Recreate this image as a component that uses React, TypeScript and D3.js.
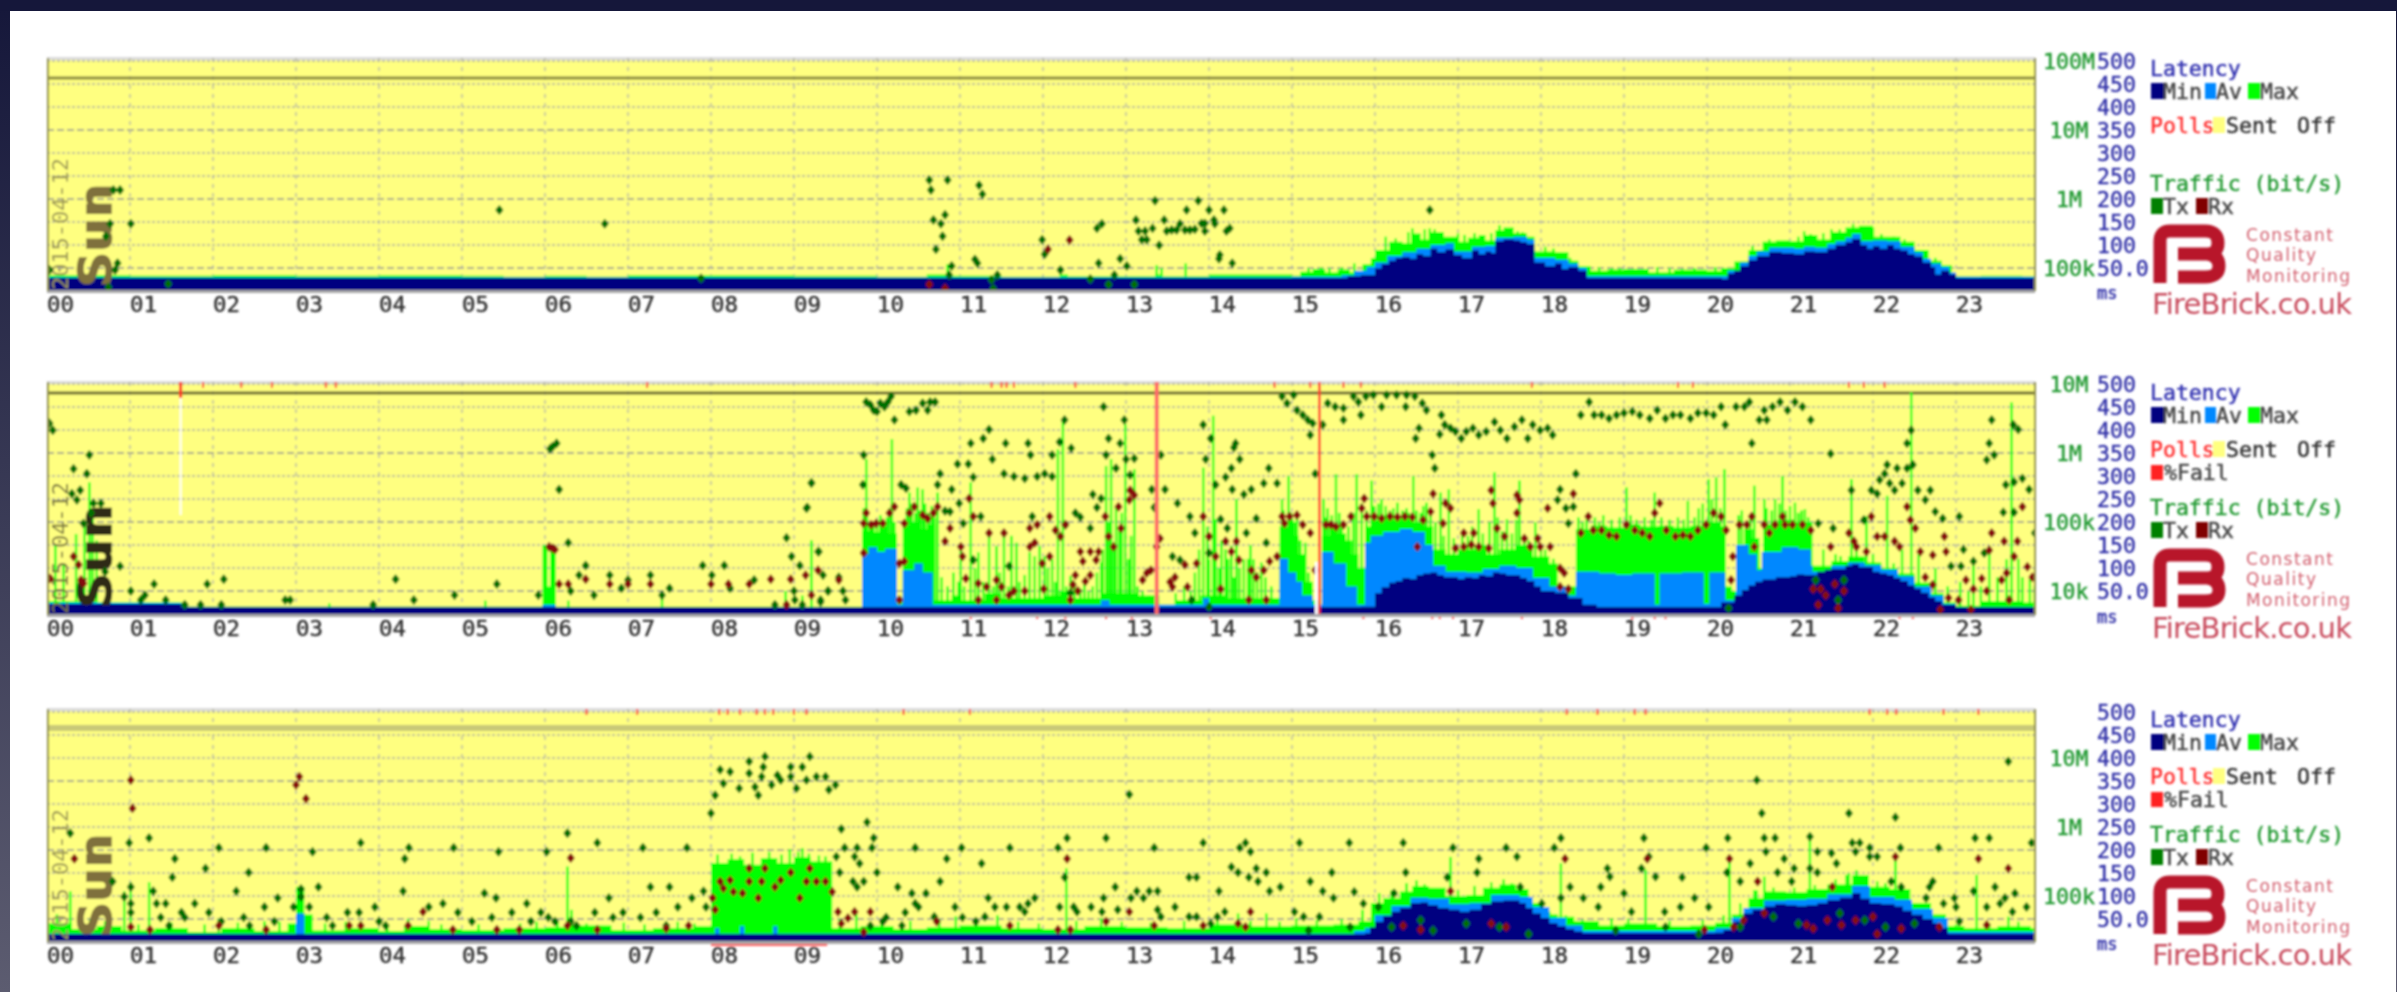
import React from "react";
import * as d3 from "d3";

type P = [number, number];

// hour labels
const hourLabels = ["00","01","02","03","04","05","06","07","08","09","10","11","12","13","14","15","16","17","18","19","20","21","22","23"];
const latencyTicks = ["500","450","400","350","300","250","200","150","100","50.0"];
const latencyValues = [500,450,400,350,300,250,200,150,100,50];

// ---------- Panel 1: latency envelopes [hour, ms]
const p1Min: P[] = [[0,28],[15.67,32],[15.83,35],[16,49],[16.08,58],[16.17,66],[16.25,72],[16.33,74],[16.42,70],[16.5,80],[16.58,76],[16.67,92],[16.75,84],[16.85,90],[16.95,78],[17.05,72],[17.17,88],[17.25,80],[17.33,86],[17.4,82],[17.45,108],[17.55,112],[17.67,110],[17.75,106],[17.83,102],[17.92,62],[18.05,54],[18.17,60],[18.25,48],[18.33,52],[18.45,44],[18.55,28],[20.1,28],[20.18,26],[20.25,38],[20.33,44],[20.4,54],[20.5,67],[20.6,76],[20.75,85],[20.9,82],[21.05,80],[21.17,86],[21.3,85],[21.45,92],[21.55,100],[21.67,106],[21.75,113],[21.85,100],[21.93,92],[22,98],[22.08,92],[22.17,100],[22.25,92],[22.33,88],[22.42,80],[22.5,75],[22.6,62],[22.7,52],[22.75,36],[22.82,44],[22.92,36],[23,28]];
const p1Av: P[] = [[0,30],[15,31],[15.6,34],[15.75,44],[15.9,52],[16,62],[16.15,76],[16.33,84],[16.5,92],[16.67,100],[16.85,104],[16.95,86],[17.17,96],[17.33,98],[17.45,116],[17.67,118],[17.83,112],[17.92,72],[18.17,68],[18.33,60],[18.45,50],[18.55,32],[20.1,32],[20.25,44],[20.4,62],[20.5,76],[20.6,86],[20.75,94],[21.05,92],[21.17,96],[21.3,94],[21.45,102],[21.55,108],[21.67,116],[21.75,124],[21.85,108],[22,110],[22.17,108],[22.33,96],[22.5,84],[22.6,70],[22.7,60],[22.82,52],[22.92,40],[23,31]];
const p1Max: P[] = [[0,34],[1,33],[2,35],[3,33],[4,34],[5,33],[5.5,31],[6,33],[6.5,31],[7,34],[8,34],[9,33],[10,31],[10.6,36],[10.85,33],[11.5,31],[12.2,36],[12.3,32],[13.35,36],[13.42,32],[14,36],[15,33],[15.1,42],[15.25,48],[15.4,40],[15.55,47],[15.7,40],[15.85,58],[15.95,72],[16,89],[16.17,107],[16.33,104],[16.45,125],[16.55,112],[16.67,128],[16.83,118],[17,107],[17.12,116],[17.25,122],[17.33,110],[17.45,132],[17.55,138],[17.67,126],[17.83,118],[17.92,86],[18.17,84],[18.33,66],[18.45,54],[18.6,44],[18.8,47],[19,48],[19.3,40],[19.6,46],[20,44],[20.17,50],[20.33,64],[20.5,89],[20.67,107],[20.83,110],[21,108],[21.17,122],[21.33,112],[21.5,128],[21.67,138],[21.83,142],[22,118],[22.17,118],[22.33,107],[22.5,89],[22.67,66],[22.83,56],[22.95,32],[23.3,33],[23.8,32]];
const p1Spikes: P[] = [[10.85,58],[13.37,56],[13.72,60],[13.43,50],[15.2,50],[15.35,52],[15.45,50],[15.6,52],[15.75,60],[16.13,118],[16.25,114],[16.4,128],[16.45,136],[16.6,134],[16.66,136],[16.72,134],[17,125],[17.08,122],[17.2,126],[17.3,120],[17.4,126],[17.5,143],[17.6,132],[17.72,130],[17.78,128],[18.05,96],[18.15,92],[18.25,70],[18.35,72],[18.7,52],[18.85,50],[18.95,50],[19.1,48],[19.4,52],[19.55,50],[19.7,48],[19.85,50],[20.1,52],[20.55,98],[20.75,112],[21.1,118],[21.17,130],[21.25,124],[21.4,126],[21.5,134],[21.6,134],[21.76,146],[21.9,136],[22,138],[22.1,124],[22.25,118],[22.38,112],[22.45,98],[22.58,80],[22.75,72]];

// Panel 1: traffic dots [hour, log10 bit/s]
const p1Tx: P[] = [[.8,6.13],[.88,6.13],[.76,5.64],[1.01,5.64],[.71,5.46],[.85,5.07],[.82,4.97],[1.46,4.77],[.74,4.72],[.03,4.97],[5.45,5.84],[6.72,5.64],[7.88,4.85],[10.63,6.275],[10.85,6.275],[10.65,6.13],[11.23,6.2],[11.27,6.07],[10.68,5.695],[10.82,5.77],[10.77,5.64],[10.79,5.46],[10.71,5.27],[11.18,5.125],[11.21,5.07],[10.9,5.03],[10.87,4.9],[11.99,5.41],[12.02,5.2],[12.65,5.575],[12.71,5.64],[12.67,5.07],[12.93,5.135],[13.01,5.03],[12.86,4.9],[12.21,4.97],[12.57,4.84],[12.79,4.76],[13.1,4.76],[11.38,4.83],[11.45,4.9],[11.4,4.7],[13.12,5.695],[13.35,5.975],[13.46,5.695],[13.4,5.33],[13.15,5.535],[13.23,5.535],[13.32,5.575],[13.19,5.41],[13.25,5.41],[13.49,5.535],[13.55,5.55],[13.61,5.55],[13.65,5.64],[13.71,5.55],[13.77,5.55],[13.83,5.56],[13.73,5.84],[13.87,5.975],[14,5.84],[14.18,5.84],[13.91,5.645],[13.95,5.645],[14.06,5.695],[14.07,5.64],[14.21,5.535],[14.25,5.575],[13.95,5.535],[14.13,5.19],[14.12,5.135],[14.28,5.07],[16.66,5.84]];
const p1Rx: P[] = [[12.32,5.405],[12.06,5.27],[10.63,4.76],[10.82,4.705]];

// ---------- Panel 2
const p2Min: P[] = [[0,22],[1.62,15],[15.83,16],[16,45],[16.08,58],[16.17,68],[16.25,72],[16.33,78],[16.42,76],[16.5,85],[16.58,88],[16.67,90],[16.75,84],[16.83,80],[17,76],[17.08,80],[17.17,78],[17.25,84],[17.33,82],[17.42,90],[17.5,88],[17.58,84],[17.67,84],[17.75,78],[17.83,72],[17.92,60],[18,50],[18.17,46],[18.33,35],[18.5,20],[18.67,15],[20,15],[20.17,25],[20.33,40],[20.42,52],[20.5,62],[20.58,70],[20.67,75],[20.83,80],[21,82],[21.08,86],[21.17,85],[21.33,92],[21.42,96],[21.5,98],[21.67,105],[21.75,108],[21.83,102],[22,92],[22.08,88],[22.17,85],[22.25,78],[22.33,72],[22.42,62],[22.5,55],[22.58,46],[22.67,36],[22.75,28],[22.83,20],[23,15]];
const p2Av: P[] = [[0,24],[1.62,16],[5.97,20],[6.13,15],[9.82,130],[9.9,145],[10,135],[10.1,142],[10.24,20],[10.31,95],[10.45,110],[10.55,90],[10.67,20],[12.7,30],[12.8,20],[13.93,34],[14,20],[14.85,120],[14.95,90],[15.05,70],[15.12,40],[15.25,20],[15.36,135],[15.5,110],[15.65,60],[15.78,20],[15.88,155],[15.95,170],[16.1,178],[16.3,185],[16.45,178],[16.6,150],[16.7,105],[16.85,92],[17.1,90],[17.3,98],[17.5,105],[17.7,100],[17.9,78],[18.1,60],[18.3,40],[18.42,92],[18.7,88],[18.9,85],[19.1,88],[19.37,20],[19.43,88],[19.7,90],[19.96,22],[20.03,90],[20.2,90],[20.22,30],[20.35,150],[20.5,130],[20.6,95],[20.66,135],[20.9,145],[21.1,140],[21.25,105],[21.27,92],[21.5,105],[21.7,112],[21.9,106],[22.1,96],[22.3,82],[22.5,60],[22.7,40],[22.85,22],[23,15]];
const p2Max: P[] = [[0,28],[.6,26],[1.62,16],[5.97,150],[6.03,60],[6.06,150],[6.13,16],[9.82,180],[9.9,195],[9.97,178],[10.05,192],[10.12,175],[10.24,30],[10.31,190],[10.4,200],[10.5,185],[10.6,195],[10.7,30],[10.9,40],[11,30],[11.3,45],[11.5,35],[12,40],[12.2,50],[12.3,35],[12.7,45],[13.15,40],[13.4,20],[13.6,30],[13.9,40],[14.2,35],[14.85,190],[14.95,205],[15.02,170],[15.08,130],[15.15,70],[15.25,30],[15.33,20],[15.36,170],[15.45,190],[15.55,175],[15.65,160],[15.72,130],[15.8,100],[15.88,190],[15.95,205],[16.1,215],[16.2,205],[16.3,210],[16.45,200],[16.6,190],[16.7,140],[16.85,130],[17,140],[17.2,150],[17.35,130],[17.5,140],[17.7,150],[17.9,125],[18.1,110],[18.2,60],[18.42,185],[18.6,192],[18.8,188],[19,195],[19.2,190],[19.4,192],[19.6,188],[19.8,192],[20,200],[20.15,190],[20.22,60],[20.3,50],[20.35,150],[20.45,185],[20.55,165],[20.63,100],[20.68,195],[20.85,205],[21.05,200],[21.27,105],[21.5,115],[21.7,125],[21.9,112],[22.1,100],[22.3,88],[22.5,68],[22.7,45],[22.85,25],[23,18],[23.3,28],[23.8,25]];
const p2Spikes: P[] = [[.51,286],[.35,174],[.1,150],[.2,110],[.45,200],[.55,220],[.6,160],[6.28,29],[7.41,44],[8.9,50],[9.21,160],[9.1,40],[5.28,29],[3.4,23],[9.87,337],[10.18,380],[10.33,184],[10.39,264],[10.49,275],[10.55,271],[10.73,264],[10.92,90],[11.01,148],[11.13,286],[11.22,134],[11.35,177],[11.44,148],[11.53,170],[11.62,170],[11.68,155],[11.84,134],[11.9,126],[11.96,148],[12.02,126],[12.11,119],[12.18,358],[12.24,424],[12.33,83],[12.7,112],[12.76,322],[12.82,337],[12.88,235],[12.99,413],[13.1,315],[13.83,90],[13.93,318],[14,119],[14.05,431],[14.08,206],[14.2,141],[14.27,148],[14.33,250],[14.42,119],[14.54,119],[14.63,112],[14.88,250],[14.96,300],[15.06,213],[15.16,155],[15.38,250],[15.53,304],[15.78,304],[15.96,290],[16.08,250],[16.27,242],[16.46,300],[16.62,242],[16.79,264],[16.89,271],[17.25,228],[17.44,308],[17.59,206],[17.74,290],[17.93,199],[19.03,275],[19.37,264],[19.77,246],[20.02,293],[20.11,297],[20.21,315],[20.57,279],[20.69,250],[20.82,250],[20.91,300],[21.06,242],[21.18,228],[21.61,126],[21.74,293],[21.92,213],[22.17,257],[22.46,482],[23.21,105],[23.4,148],[23.61,119],[23.67,460],[23.89,76],
[9.84,230],[9.88,210],[9.92,200],[9.95,190],[10,205],[10.04,215],[10.08,200],[10.12,210],[10.15,230],[10.21,200],[10.36,230],[10.42,240],[10.46,220],[10.52,225],[10.58,240],[10.62,220],[10.66,235],[10.69,210],[10.78,80],[10.85,60],[10.98,70],[11.05,60],[11.18,100],[11.28,70],[11.4,60],[11.48,90],[11.58,60],[11.72,70],[11.78,85],[12.06,100],[12.15,70],[12.28,60],[12.38,70],[12.45,55],[12.5,70],[12.55,50],[12.6,60],[12.65,90],[12.72,140],[12.79,200],[12.85,150],[12.92,180],[12.95,220],[13.03,120],[13.06,170],[13.14,60],[13.2,50],[13.28,40],[13.6,45],[13.7,60],[13.78,50],[13.88,140],[13.98,190],[14.12,100],[14.15,160],[14.23,120],[14.3,80],[14.37,100],[14.47,120],[14.5,150],[14.58,90],[14.68,80],[14.75,60],[14.9,225],[14.99,220],[15.03,200],[15.1,160],[15.2,90],[15.4,210],[15.43,230],[15.48,215],[15.57,220],[15.6,200],[15.68,190],[15.74,220],[15.84,240],[15.9,225],[15.99,235],[16.04,240],[16.13,235],[16.18,225],[16.22,230],[16.33,225],[16.38,230],[16.41,220],[16.5,225],[16.55,220],[16.58,235],[16.67,215],[16.73,200],[16.83,170],[16.95,165],[17.05,180],[17.12,170],[17.17,190],[17.3,175],[17.38,200],[17.48,210],[17.53,180],[17.65,175],[17.7,205],[17.8,170],[17.85,160],[18,150],[18.05,140],[18.15,120],[18.45,210],[18.5,200],[18.55,205],[18.65,210],[18.7,200],[18.75,215],[18.85,205],[18.95,210],[19.08,215],[19.15,205],[19.25,210],[19.33,205],[19.45,210],[19.55,205],[19.65,210],[19.72,205],[19.85,210],[19.9,230],[19.95,240],[20.06,250],[20.16,230],[20.38,215],[20.42,225],[20.48,200],[20.52,210],[20.72,230],[20.78,225],[20.87,240],[20.95,225],[21,235],[21.1,220],[21.14,225],[21.22,210],[21.4,140],[21.55,130],[21.8,150],[22,130],[22.25,110],[22.35,140],[22.55,130],[22.75,100],[22.9,60],[23.05,70],[23.15,50],[23.3,60],[23.5,80],[23.75,120],[23.8,80],[23.95,60]];
const p2Tx: P[] = [[.03,6.43],[.07,6.33],[.51,5.97],[.32,5.77],[.48,5.7],[.3,5.41],[.4,5.46],[.36,5.32],[.56,5.27],[.65,5.27],[.44,4.98],[.53,5.13],[.88,4.36],[.7,4.28],[1.01,4],[1.29,4.1],[1.18,3.94],[1.13,3.87],[1.43,3.87],[1.66,3.8],[1.85,3.8],[2.1,3.8],[1.93,4.1],[2.13,4.17],[2.87,3.87],[2.93,3.87],[3.93,3.8],[4.2,4.17],[4.42,3.87],[4.91,3.94],[5.42,4.1],[5.92,3.94],[6.06,6.06],[6.09,6.09],[6.14,6.14],[6.17,5.47],[6.28,4.7],[6.31,4],[6.41,4.23],[6.49,4.37],[6.59,3.94],[6.78,4.23],[6.92,4.04],[7,4.16],[7.27,4.23],[7.5,4.04],[7.41,3.94],[7.9,4.37],[8.01,4.23],[8.16,4.37],[8.23,4.04],[8.52,4.16],[8.77,3.8],[8.91,4.77],[8.97,4.5],[9.07,4.37],[9.15,5.2],[9.21,5.57],[9.3,4.57],[9.35,4.23],[9,4],[9.01,3.87],[9.1,3.8],[9.32,3.84],[9.41,4],[9.54,4.2],
[9.87,6.74],[9.92,6.7],[9.96,6.62],[10,6.6],[10.04,6.72],[10.09,6.67],[10.13,6.74],[10.17,6.82],[10.21,6.48],[10.39,6.6],[10.47,6.62],[10.55,6.72],[10.61,6.62],[10.64,6.74],[10.7,6.74],[11.53,5.7],[11.65,5.66],[11.78,5.63],[11.93,5.66],[12.02,5.7],[12.11,5.66],[12.73,6.67],[12.26,6.48],[12.98,6.48],[11.35,6.34],[11.28,6.21],[11.13,6.14],[11.55,6.14],[11.82,6.14],[12.79,6.21],[12.93,6.14],[13.93,6.41],[14.02,6.21],[14.32,6.14],[14.3,6.08],[9.84,5.97],[11.39,5.91],[11.85,5.97],[12.11,5.97],[12.2,6.16],[12.34,6.07],[12.76,5.97],[13,5.91],[13.1,5.92],[13.42,5.97],[13.96,5.91],[14.37,5.91],[10.97,5.84],[11.1,5.84],[12.88,5.78],[14.27,5.78],[14.72,5.78],[11.16,5.65],[10.76,5.7],[14.2,5.65],[9.83,5.54],[10.29,5.54],[10.35,5.49],[10.73,5.54],[10.9,5.47],[13.05,5.68],[14.08,5.54],[14.28,5.47],[14.42,5.4],[14.51,5.47],[14.66,5.56],[14.82,5.56],[13.31,5.47],[13.47,5.47],[12.6,5.4],[12.7,5.34],[13.62,5.27],[10.99,5.27],[12.65,5.21],[13.34,5.21],[10.82,5.16],[10.88,5.15],[11.04,4.98],[11.25,5.08],[11.87,5.08],[12.39,5.13],[12.45,5.07],[12.57,4.91],[12.27,4.96],[13.77,5.08],[14.14,5.04],[14.57,5.05],[14.22,4.91],[13.83,4.84],[14.45,4.84],[14.69,4.7],[14,4.55],[13.56,4.5],[13.65,4.45],[11.16,4.45],[9.29,4.57],[9.21,5.56],[9.16,5.21],[9.32,3.87],[9.41,4],[9.62,3.87],[9.59,4],[11.59,4.36],[13.79,3.87],[14,3.77],[12.33,3.97],
[14.88,6.82],[14.94,6.72],[15.02,6.84],[15.06,6.62],[15.13,6.55],[15.19,6.48],[15.22,6.26],[15.25,6.43],[15.37,6.41],[15.28,5.7],[15.43,6.72],[15.52,6.67],[15.62,6.65],[15.62,6.48],[15.74,6.82],[15.8,6.74],[15.83,6.55],[15.89,6.82],[15.98,6.84],[16.08,6.67],[16.14,6.84],[16.26,6.84],[16.38,6.84],[16.37,6.67],[16.48,6.82],[16.57,6.72],[16.62,6.62],[16.53,6.36],[16.49,6.21],[16.8,6.55],[16.78,6.27],[16.69,5.97],[16.72,5.78],
[16.84,6.41],[16.91,6.36],[16.97,6.31],[17.04,6.21],[17.1,6.31],[17.18,6.36],[17.25,6.26],[17.34,6.31],[17.44,6.45],[17.51,6.33],[17.59,6.21],[17.68,6.38],[17.77,6.48],[17.84,6.21],[17.9,6.41],[17.99,6.33],[18.08,6.36],[18.14,6.26],[18.23,5.47],[18.42,5.7],[18.3,5.2],[18.33,4.98],[18.39,5.22],[18.2,5.32],
[18.48,6.55],[18.58,6.74],[18.64,6.55],[18.73,6.55],[18.82,6.5],[18.91,6.55],[19,6.58],[19.1,6.6],[19.19,6.55],[19.31,6.5],[19.4,6.62],[19.5,6.5],[19.59,6.55],[19.68,6.55],[19.8,6.5],[19.89,6.58],[19.99,6.58],[20.08,6.55],[20.17,6.67],[20.22,6.41],[20.35,6.67],[20.45,6.67],[20.51,6.74],[20.63,6.48],[20.72,6.48],[20.69,6.62],[20.79,6.67],[20.88,6.74],[20.97,6.62],[21.06,6.74],[21.15,6.67],[21.25,6.48],[20.54,6.14],[21.49,5.99],
[22.17,5.83],[22.29,5.78],[22.41,5.78],[22.48,5.83],[22.46,6.33],[22.41,6.14],[22.14,5.7],[22.08,5.61],[21.98,5.46],[22.05,5.41],[22.2,5.56],[22.35,5.56],[22.26,5.46],[22.54,5.46],[22.69,5.46],[22.63,5.32],[22.75,5.15],[22.84,5.05],[21.74,5.46],[23.04,5.08],[21.89,5.03],[23.43,6.48],[23.4,6.14],[23.37,5.9],[23.46,5.97],[23.69,6.41],[23.75,6.34],[23.8,5.63],[23.7,5.58],[23.6,5.54],[23.88,5.47],[23.57,5.14],[23.7,5.14],[23.95,4.84],[23.09,4.6],[23.21,4.43],[23.34,4.55],[23.06,4.36],[22.94,4.36],[21.34,4.98],[21.52,4.91],[21.31,4.16],[21.65,4.16],[21.58,3.87],[20.26,3.75]];
const p2Rx: P[] = [[.32,4.5],[.04,4.18],[.41,4.16],[.38,4.38],[.44,4.11],[6.09,4.62],[6.05,4.64],[6.12,4.6],[6.17,4.1],[6.28,4.1],[6.49,4.17],[6.78,4.1],[7,4.1],[7.27,4.1],[8,4.1],[8.21,4.1],[8.46,4.1],[8.72,4.17],[8.96,4.17],[8.91,3.8],[9.14,4.23],[9.21,3.94],[9.29,4.3],[9.54,4.16],
[9.84,4.55],[10.27,4.4],[10.33,4.43],[10.27,3.87],[9.87,5.13],[9.84,4.98],[9.93,4.96],[9.99,4.98],[10.07,4.98],[10.15,5.13],[10.21,5.22],[10.39,5.13],[10.45,5.22],[10.55,5.1],[10.61,5.05],[10.68,5.13],[10.73,5.22],[10.33,4.98],[10.82,4.72],[10.88,4.91],[11.01,4.64],[11.03,4.5],[11.11,5.34],[11.16,5.08],[11.35,4.84],[11.53,4.84],[11.07,4.18],[11.22,4.11],[11.32,4.06],[11.44,4.16],[11.5,4.06],[11.65,4],[11.78,4],[12.01,4.03],[11.22,3.87],[11.44,3.87],[11.59,3.94],[11.84,4.91],[11.93,4.96],[12.15,4.88],[12.21,4.79],[12.27,4.96],[11.84,4.64],[11.9,4.7],[12.08,5.08],[11.99,4.4],[12.08,4.5],[12.45,4.57],[12.57,4.57],[12.67,4.57],[12.48,4.43],[12.64,4.45],[12.39,4.23],[12.36,4.09],[12.57,4.23],[12.51,4.14],[12.42,4],[12.33,3.87],[12.75,5.08],[12.91,5.22],[12.94,4.91],[12.79,4.79],[12.85,4.64],[13.05,5.46],[13.1,5.39],[13.04,5.32],[13.25,4.26],[13.3,4.3],[13.2,4.16],[13.41,4.76],[13.37,4.64],[13.53,4.13],[13.59,4.2],[13.56,4.06],[13.71,4.38],[13.85,4.4],[13.74,4.06],[13.93,5.08],[14,4.79],[14.08,4.5],[14.2,4.72],[14.33,4.72],[14.27,4.57],[14.36,4.45],[14.51,4.3],[14.57,4.2],[14.66,4.3],[14.73,4.43],[14.82,4.5],[14.48,3.87],[14.69,3.87],[14.14,4.03],[14.88,5.08],[14.97,5.08],[15.06,5.1],[14.91,4.98],[15.13,4.96],[15.22,4.84],[15.28,4.3],
[15.41,4.96],[15.47,4.96],[15.53,4.93],[15.62,4.96],[15.71,5.08],[15.87,5.34],[15.84,5.2],[15.9,5.08],[15.99,5.08],[16.08,5.05],[16.18,5.08],[16.27,5.07],[16.36,5.08],[16.45,5.07],[16.58,5.03],[16.67,5.15],[16.7,5.41],[16.85,5.27],[16.91,5.2],[16.82,4.98],[16.51,4.64],[16.97,4.62],[17.07,4.64],[17.16,4.67],[17.25,4.64],[17.37,4.62],[17.47,4.91],[17.42,5.27],[17.4,5.46],[17.56,4.79],[17.71,5.39],[17.74,5.32],[17.71,5.13],[17.8,4.76],[17.96,4.76],[17.87,4.64],[17.99,4.64],[18.11,4.64],[18.08,5.2],[17.19,4.84],[17.07,4.84],[18.23,4.33],[18.28,4.26],[18.23,4.06],[18.33,4.03],[18.39,5.41],
[18.48,4.84],[18.57,5.08],[18.63,4.88],[18.73,4.88],[18.82,4.81],[18.91,4.79],[19.03,4.96],[19.13,4.88],[19.22,4.84],[19.31,4.79],[19.37,5.13],[19.43,5.27],[19.51,4.88],[19.62,4.79],[19.71,4.81],[19.8,4.79],[19.89,4.88],[19.99,4.96],[20.08,5.13],[20.17,5.08],[20.23,4.88],[20.31,4.5],[20.29,4.16],[20.39,4.96],[20.48,4.96],[20.54,5.08],[20.69,4.96],[20.75,4.84],[20.82,4.96],[20.91,5.08],[20.94,4.96],[21.03,4.96],[21.15,4.96],[21.25,4.88],[20.57,4.64],
[21.28,4.03],[21.37,4.03],[21.43,3.94],[21.54,4.1],[21.34,3.8],[21.58,3.75],[21.65,4],[21.49,4.64],[21.71,4.84],[21.77,4.72],[21.8,4.64],[21.92,4.57],[21.98,5.08],[22.05,4.79],[22.14,4.79],[22.26,4.72],[22.32,4.64],[22.41,5.22],[22.45,5.03],[22.51,4.91],[22.57,4.57],[22.72,4.52],[22.86,4.79],[22.88,4.57],[22.63,4.2],[22.72,4.09],[22.91,3.9],[23.03,3.87],[22.81,3.73],[23.18,3.73],[23.12,4.16],[23.21,4.03],[23.31,4.18],[23.43,4.84],[23.4,4.59],[23.58,4.72],[23.74,4.72],[23.7,4.5],[23.61,4.26],[23.55,4.16],[23.8,5.22],[23.86,4.35],[23.92,4.2],[23.37,4],[23.64,3.87]];
const p2FailTop: number[] = [1.88,2.34,2.71,3.36,3.48,7.23,11.38,11.5,11.56,11.65,12.39,14.79,15.22,15.62,15.83,17.89,19.65,19.83,21.71,21.89,22.14];
const p2FailBottom: number[] = [11.13,11.93,12.27,12.76,13.07,14.02,15.86,16.69,16.78,16.94,17.77,19.1,19.37,19.5,22.32,22.48];

// ---------- Panel 3
const p3Min: P[] = [[0,17],[15.88,19],[15.94,32],[16,44],[16.1,56],[16.2,66],[16.3,74],[16.43,84],[16.55,86],[16.64,80],[16.76,74],[16.89,70],[17.02,66],[17.14,70],[17.28,82],[17.4,88],[17.55,90],[17.74,84],[17.82,74],[17.9,62],[18,52],[18.1,41],[18.2,34],[18.3,28],[18.4,23],[18.5,19],[20.1,20],[20.2,26],[20.32,44],[20.44,62],[20.55,70],[20.69,77],[20.82,82],[20.95,80],[21.08,78],[21.2,80],[21.33,84],[21.45,91],[21.6,96],[21.75,106],[21.85,94],[21.96,84],[22.1,82],[22.26,77],[22.36,68],[22.47,59],[22.6,50],[22.72,41],[22.82,30],[22.9,18]];
const p3Av: P[] = [[0,18],[3,62],[3.1,18],[8.05,30],[8.1,18],[8.35,34],[8.4,18],[8.75,34],[8.8,18],[15.75,24],[15.88,30],[16,58],[16.2,78],[16.43,96],[16.64,94],[16.89,82],[17.14,84],[17.4,102],[17.74,98],[17.9,76],[18.1,52],[18.3,36],[18.5,24],[20.1,30],[20.3,52],[20.44,74],[20.69,90],[20.95,92],[21.2,94],[21.45,104],[21.75,122],[21.96,98],[22.26,92],[22.47,72],[22.72,52],[22.9,22]];
const p3Max: P[] = [[0,40],[.3,28],[.6,35],[.9,25],[1.3,30],[1.7,22],[2.1,30],[2.5,24],[2.9,40],[3,120],[3.1,60],[3.2,25],[3.6,30],[4,24],[4.3,35],[4.6,28],[5,26],[5.5,30],[6,32],[6.3,36],[6.8,26],[7.3,30],[7.8,34],[8,172],[8.2,180],[8.4,168],[8.6,182],[8.8,172],[9,185],[9.2,175],[9.46,30],[9.8,34],[10.2,28],[10.6,32],[11,36],[11.5,30],[12,28],[12.5,34],[13,32],[13.5,30],[14,38],[14.5,34],[15,36],[15.5,38],[15.8,45],[15.95,85],[16.1,95],[16.3,110],[16.45,122],[16.65,118],[16.85,100],[17.1,102],[17.3,118],[17.5,125],[17.7,115],[17.85,85],[18,60],[18.2,55],[18.4,45],[18.7,36],[19,40],[19.4,34],[19.8,36],[20.1,42],[20.3,60],[20.5,95],[20.7,110],[20.95,108],[21.2,115],[21.45,125],[21.75,145],[21.95,120],[22.2,115],[22.45,85],[22.7,60],[22.88,35],[23.1,30],[23.5,34],[23.9,30]];
const p3Spikes: P[] = [[.28,110],[.4,70],[.93,110],[1.01,130],[1.23,130],[2.07,50],[2.62,45],[3.78,45],[4.35,50],[6.27,164],[6.32,70],[12.28,160],[14.35,62],[14.69,62],[16.91,185],[18.24,171],[19.26,157],[20.27,175],[20.57,113],[20.69,142],[21.24,229],[21.71,149],[22.27,178],[23.25,146],[23.63,55],
[.12,60],[.52,50],[.7,45],[1.1,38],[1.5,42],[1.9,38],[2.3,42],[2.8,44],[3.35,40],[3.6,44],[4.1,36],[4.6,46],[4.75,38],[5.2,38],[5.7,40],[5.9,44],[6.15,46],[6.5,40],[6.95,42],[7.2,38],[7.6,44],[7.8,40],
[8.08,190],[8.25,192],[8.35,186],[8.5,194],[8.7,196],[8.85,190],[8.95,202],[9.05,196],[9.1,204],[9.18,192],[9.3,188],[9.38,186],
[9.55,50],[9.75,60],[10.05,48],[10.4,46],[10.75,50],[10.95,56],[11.2,48],[11.45,58],[11.7,44],[11.95,40],[12.4,46],[12.7,52],[12.95,44],[13.3,42],[13.7,46],[14.1,52],[14.5,46],[14.85,44],[15.05,52],[15.3,48],[15.6,50],[15.85,70],[16.05,106],[16.2,112],[16.38,128],[16.5,134],[16.6,126],[16.78,114],[17,112],[17.2,122],[17.4,130],[17.55,136],[17.65,128],[17.78,108],[17.95,76],[18.1,66],[18.3,58],[18.5,48],[18.85,52],[19.05,50],[19.55,46],[19.95,48],[20.2,58],[20.4,84],[20.6,112],[20.8,118],[21.05,118],[21.3,124],[21.55,136],[21.68,146],[21.8,156],[21.88,142],[22.05,132],[22.15,128],[22.35,108],[22.55,84],[22.78,54],[23,38],[23.4,40],[23.75,44]];
const p3Tx: P[] = [[.28,5.91],[.99,5.77],[1.23,5.84],[2.07,5.7],[2.64,5.7],[3.2,5.64],[3.78,5.77],[4.36,5.7],[4.9,5.7],[5.44,5.64],[6.02,5.64],[6.27,5.91],[6.63,5.77],[7.18,5.7],[7.71,5.7],[1.54,5.54],[4.31,5.54],[1.91,5.4],[1.51,5.27],[2.43,5.34],[.79,5.21],[1.01,5.13],[1.28,5.07],[.93,4.99],[2.28,5.07],[3.27,5.13],[4.29,5.07],[5.27,5.04],[5.41,4.97],[6.77,4.97],[7.27,5.13],[7.5,5.13],[7.77,4.97],[7.91,5.07],[3.06,5.1],[3.06,4.99],[1.32,4.89],[1.43,4.89],[1.78,4.89],[2.78,4.97],[2.62,4.84],[1.62,4.76],[1.95,4.76],[1.66,4.69],[2.37,4.69],[1.37,4.69],[2.1,4.63],[2.74,4.63],[1.47,4.57],[2.44,4.57],[1.01,4.76],[1.01,4.89],[2.97,4.84],[3.16,4.84],[3.37,4.69],[3.44,4.57],[3.62,4.76],[3.76,4.76],[3.95,4.84],[4,4.63],[4.08,4.57],[4.6,4.84],[4.77,4.89],[4.95,4.76],[5.12,4.63],[5.36,4.69],[5.6,4.76],[5.78,4.89],[5.95,4.76],[5.83,4.63],[6.04,4.69],[6.12,4.63],[6.31,4.63],[6.38,4.57],[6.6,4.76],[6.82,4.69],[6.94,4.76],[7.15,4.69],[7.34,4.76],[7.46,4.57],[7.6,4.84],[7.94,4.84],
[8.46,6.95],[8.65,7.02],[9.19,7.02],[8.63,6.87],[8.96,6.87],[9.1,6.87],[8.11,6.83],[8.23,6.8],[8.46,6.78],[8.61,6.73],[8.8,6.75],[8.96,6.73],[9.15,6.68],[9.27,6.73],[9.38,6.73],[8.15,6.63],[8.34,6.56],[8.53,6.58],[8.57,6.46],[8.73,6.61],[8.84,6.68],[9.03,6.56],[9.42,6.54],[9.5,6.61],[8.05,6.46],[8,6.2],
[9.57,5.97],[9.88,6.07],[9.96,5.84],[9.61,5.7],[9.76,5.7],[9.94,5.7],[9.51,5.57],[9.73,5.57],[9.79,5.47],[10.46,5.7],[11.02,5.7],[10.84,5.54],[11.26,5.47],[10,5.34],[9.55,5.34],[9.84,5.21],[9.76,5.13],[10.76,5.21],[10.25,5.13],[9.71,5.21],[10.42,5.04],[10.59,5.04],[11.34,4.97],[10.46,4.89],[10.5,4.84],[10.94,4.84],[11.42,4.84],[10.34,4.76],[10.11,4.69],[10.69,4.7],[11.03,4.69],[11.3,4.7],[11.19,4.63],[10.07,4.63],[9.92,4.57],[10.3,4.57],
[11.6,5.7],[12.18,5.7],[12.29,5.84],[12.76,5.84],[13.34,5.7],[13.93,5.77],[14.37,5.7],[14.44,5.77],[14.5,5.64],[15.09,5.77],[15.69,5.77],[16.34,5.77],[16.94,5.7],[17.58,5.7],[18.16,5.7],[18.24,5.84],[19.24,5.84],[19.99,5.7],[20.25,5.84],[20.69,5.84],[20.82,5.84],[20.71,5.64],[21.24,5.86],[21.33,5.64],[21.75,5.77],[21.84,5.77],[21.79,5.64],[21.96,5.7],[22.33,5.7],[22.05,5.57],[22.79,5.7],[23.23,5.84],[23.4,5.84],[23.91,5.77],[13.04,6.47],[20.6,6.68],[20.66,6.2],[21.71,6.2],[22.27,6.14],[23.63,6.95],
[12.26,5.27],[17.25,5.54],[17.71,5.57],[17.23,5.34],[16.37,5.34],[15.48,5.34],[14.27,5.42],[14.35,5.34],[14.57,5.4],[14.69,5.34],[14.48,5.27],[14.59,5.21],[13.76,5.27],[13.85,5.27],[12.87,5.13],[13.06,4.97],[13.21,4.97],[13.13,5.07],[13.28,5.07],[13.38,5.07],[14.12,5.07],[14.73,5.07],[14.86,5.13],[15.22,5.21],[15.37,5.07],[15.75,5.06],[15.5,4.97],[12.73,4.97],[11.9,4.97],[11.82,4.89],[11.72,4.84],[11.56,4.84],[11.78,4.77],[12.2,4.84],[12.37,4.84],[12.58,4.84],[12.9,4.8],[12.71,4.77],[12.41,4.77],[13.59,4.84],[13.38,4.8],[13.42,4.7],[13.76,4.7],[13.85,4.7],[14.19,4.77],[14.1,4.7],[14.02,4.6],[15.03,4.77],[15.14,4.7],[15.33,4.7],[15.86,4.89],[16.04,4.84],[16.23,5.04],[16.87,5.27],[17.75,5.13],[18.8,5.4],[18.83,5.28],[18.72,5.13],[18.69,4.84],[19.09,4.77],[19,5.04],[18.51,4.97],[18.01,4.89],[18.24,4.97],[18.35,5.13],[19.21,5.4],[19.38,5.28],[19.3,5.57],[19.7,5.27],[19.85,4.97],[19.68,4.84],[20.02,4.84],[19.49,4.77],[20.24,5.34],[20.4,5.21],[20.52,5.47],[20.93,5.54],[21.05,5.4],[20.85,5.34],[21.02,5.21],[21.24,5.4],[21.33,5.34],[21.5,5.62],[21.56,5.47],[21.96,5.57],[22.22,5.21],[22.34,5.13],[22.72,5.21],[22.68,5.13],[22.64,4.97],[22.85,4.89],[23,4.84],[22.98,4.97],[23.47,5.13],[23.71,5.04],[23.59,4.97],[23.53,4.89],[23.37,4.84],[23.68,4.77],[23.85,4.84],[23.21,5.07],[23.04,4.63],
[16.55,4.65],[16.2,4.55],[16.7,4.5],[17.1,4.6],[17.5,4.55],[17.85,4.45],[15.7,4.55],[15.2,4.5],[20.4,4.55],[20.8,4.7],[21.1,4.6],[21.6,4.75],[21.9,4.65],[22.15,4.55],[22.5,4.6],[19.9,4.45],[18.9,4.5],[19.5,4.55]];
const p3Rx: P[] = [[1.01,6.68],[1.03,6.27],[3.04,6.73],[3,6.61],[3.12,6.41],[.33,5.54],[6.31,5.55],[4.53,4.77],[1.01,4.55],[1.24,4.51],[2.07,4.57],[2.64,4.51],[3.64,4.57],[3.78,4.57],[4.35,4.57],[4.89,4.51],[5.42,4.51],[5.69,4.51],[6.27,4.57],[6.63,4.51],[7.46,4.53],[7.73,4.57],[8.02,4.97],[8.05,4.8],[8.46,5.4],[8.65,5.4],[8.11,5.21],[8.23,5.23],[8.15,5.11],[8.27,5.06],[8.38,5.04],[8.46,5.21],[8.61,5.21],[8.57,4.97],[8.77,5.13],[8.84,5.23],[8.96,5.34],[9.07,4.97],[9.15,5.21],[9.19,5.4],[9.27,5.21],[9.38,5.21],[9.46,5.06],[9.53,4.77],[9.92,4.77],[9.73,4.77],[9.65,4.68],[9.57,4.6],[9.84,4.48],[10.72,4.63],
[12.29,5.54],[13.04,4.77],[12.76,4.63],[11.6,4.57],[13.34,4.57],[12.18,4.51],[12.33,4.51],[14.35,4.6],[14.5,4.77],[14.44,4.55],[13.93,4.57],[16.91,5.07],[18.29,5.54],[19.28,5.54],[20.27,5.54],[20.61,5.21],[21.51,5.13],[22.27,5.57],[23.27,5.54],[23.63,5.4],[23.37,4.58],[16.34,4.57],[16.55,4.51],[17.4,4.6],[17.58,4.55],[20.32,4.55],[20.44,4.65],[20.69,4.75],[21.2,4.58],[21.28,4.53],[21.45,4.65],[21.79,4.65],[22,4.7],[21.62,4.58],[22.05,4.45],[22.34,4.53],[22.8,4.55],[19.97,4.51]];
const p3FailTop: number[] = [6.5,7.11,8.1,8.2,8.35,8.55,8.65,8.75,9,9.15,10.32,11.12,18.31,18.68,19.13,19.26,21.96,22.17,22.28,22.85,23.27];

const GREEN = "#00ff00";
const BLUE = "#0088ff";
const NAVY = "#000080";
const YELLOW = "#ffff80";
const TXC = "#067006";
const RXC = "#850808";
const MONO = "'DejaVu Sans Mono', monospace";

const dotType = {
  draw(ctx: any, size: number) {
    const r = Math.sqrt(size) / 2;
    ctx.moveTo(0, -r * 1.25);
    ctx.lineTo(r * 0.62, -r * 0.55);
    ctx.lineTo(r, 0);
    ctx.lineTo(r * 0.62, r * 0.55);
    ctx.lineTo(0, r * 1.25);
    ctx.lineTo(-r * 0.62, r * 0.55);
    ctx.lineTo(-r, 0);
    ctx.lineTo(-r * 0.62, -r * 0.55);
    ctx.closePath();
  },
};
const dotPath = d3.symbol(dotType as any, 64)() as string;

const X0 = 47, X1 = 2035, HOURW = 83;
const x = d3.scaleLinear().domain([0, 24]).range([X0, X0 + 24 * HOURW]);

interface PanelProps {
  id: string; top: number; bottom: number; lineY: number; lineW: number; lineC: string;
  zero: number; min: P[]; av: P[]; max: P[]; spikes: P[]; tx: P[]; rx: P[];
  trafficDomain: [number, number]; trafficMs: [number, number];
  trafficTicks: [number, string][];
  sunColor: string; dateColor: string; fail: boolean; sunDy: number;
  failTop: number[]; failBottom?: number[]; outages?: boolean; short?: boolean; topBar?: boolean;
}

function Panel(p: PanelProps) {
  const y = d3.scaleLinear().domain([0, 500]).range([p.zero, p.zero - 230]);
  const t = d3.scaleLog().domain(p.trafficDomain).range([y(p.trafficMs[0]), y(p.trafficMs[1])]);
  const area = d3.area<P>().x(d => x(d[0])).y0(p.bottom).y1(d => y(d[1])).curve(d3.curveStepAfter);
  const withEnd = (s: P[]): P[] => [...s, [24, s[s.length - 1][1]]];
  const dy = p.top - 58;
  const w = X1 - X0, h = p.bottom - p.top;
  const bold = { stroke: "currentColor", strokeWidth: 0.45 };
  return (
    <g>
      <clipPath id={p.id}><rect x={X0} y={p.top} width={w} height={h} /></clipPath>
      <rect x={X0} y={p.top} width={w} height={h} fill={YELLOW} />
      <rect x={X0} y={p.top - 1} width={w} height={3} fill="#dcdcdc" />
      {latencyValues.map((v) => (
        <line key={v} x1={X0} x2={X1} y1={y(v)} y2={y(v)}
          stroke={v === 350 || v === 200 || v === 50 ? "#a9a98c" : "#c0c098"}
          strokeWidth={2}
          strokeDasharray={v === 350 || v === 200 || v === 50 ? "7 3" : "3 2"} />
      ))}
      {hourLabels.map((_, i) => i > 0 && (
        <line key={i} x1={x(i)} x2={x(i)} y1={p.top} y2={p.bottom} stroke="#b4b4a4" strokeWidth={1.4} strokeDasharray="4 5" />
      ))}
      <line x1={X0} x2={X1} y1={p.lineY} y2={p.lineY} stroke={p.lineC} strokeWidth={p.lineW} />
      <g clipPath={`url(#${p.id})`}>
        <path d={area(withEnd(p.max)) as string} fill={GREEN} />
        {p.spikes.map((s, i) => (
          <line key={i} x1={x(s[0])} x2={x(s[0])} y1={p.bottom} y2={y(s[1])} stroke={GREEN} strokeWidth={2.4} />
        ))}
        <path d={area(withEnd(p.av)) as string} fill={BLUE} />
        <path d={area(withEnd(p.min)) as string} fill={NAVY} />
      </g>
      <text transform={`translate(60,${p.bottom - 1}) rotate(-90)`} fontFamily={MONO} fontSize={22} fill={p.dateColor}
        dominantBaseline="central" textLength={132} lengthAdjust="spacing">2015-04-12</text>
      <text transform={`translate(95,${p.bottom - p.sunDy}) rotate(-90)`} fontFamily={MONO} fontSize={44} fontWeight="bold" fill={p.sunColor}
        stroke={p.sunColor} strokeWidth={1.5}
        dominantBaseline="central" textLength={104} lengthAdjust="spacingAndGlyphs">Sun</text>
      <g clipPath={`url(#${p.id})`}>
        {p.tx.map((d, i) => (
          <path key={i} d={dotPath} fill={TXC} transform={`translate(${x(d[0])},${t(Math.pow(10, d[1]))})`} />
        ))}
        {p.rx.map((d, i) => (
          <path key={i} d={dotPath} fill={RXC} transform={`translate(${x(d[0])},${t(Math.pow(10, d[1]))})`} />
        ))}
        {p.failTop.map((h0, i) => (
          <line key={i} x1={x(h0)} x2={x(h0)} y1={p.top} y2={p.top + 6} stroke="#ff4040" strokeWidth={2} />
        ))}
        {p.outages && (
          <g>
            <line x1={x(13.37)} x2={x(13.37)} y1={p.top} y2={p.bottom} stroke="#ff6a6a" strokeWidth={4} />
            <line x1={x(15.33) - 3} x2={x(15.33) - 3} y1={p.top + 180} y2={p.bottom} stroke="#ffffff" strokeWidth={3} />
            <line x1={x(15.33)} x2={x(15.33)} y1={p.top} y2={p.bottom} stroke="#ff3030" strokeWidth={2.5} />
          </g>
        )}
        {p.short && (
          <g>
            <line x1={x(1.61)} x2={x(1.61)} y1={p.top} y2={p.top + 133} stroke="#ffffff" strokeWidth={2} />
            <line x1={x(1.61)} x2={x(1.61)} y1={p.top} y2={p.top + 16} stroke="#ff2020" strokeWidth={3} />
          </g>
        )}
      </g>
      {(p.failBottom || []).map((h0, i) => (
        <line key={i} x1={x(h0)} x2={x(h0)} y1={p.bottom} y2={p.bottom + 4} stroke="#ff5050" strokeWidth={2} />
      ))}
      {p.topBar && <rect x={x(8)} y={p.bottom} width={x(9.4) - x(8)} height={4} fill="#ff6060" />}
      <rect x={X0} y={p.bottom - 1} width={w} height={3} fill="#a8a8a8" />
      <line x1={X0 + 1} x2={X0 + 1} y1={p.top} y2={p.bottom} stroke="#90904a" strokeWidth={2} />
      <line x1={X1} x2={X1} y1={p.top} y2={p.bottom} stroke="#90904a" strokeWidth={2} />
      {hourLabels.map((l, i) => (
        <text key={l} x={x(i)} y={p.bottom + 14} fontFamily={MONO} fontSize={21} fill="#333" color="#333" {...bold} dominantBaseline="central" textLength={27} lengthAdjust="spacingAndGlyphs">{l}</text>
      ))}
      {latencyTicks.map((l, i) => (
        <text key={l} x={2097} y={y(latencyValues[i])} fontFamily={MONO} fontSize={21.5} fill="#3232a8" color="#3232a8" {...bold} dominantBaseline="central">{l}</text>
      ))}
      <text x={2097} y={p.bottom + 2} fontFamily={MONO} fontSize={17} fill="#3232a8" color="#3232a8" {...bold} dominantBaseline="central">ms</text>
      {p.trafficTicks.map(([v, l]) => (
        <text key={l} x={2069} y={t(v)} textAnchor="middle" fontFamily={MONO} fontSize={21.5} fill="#229a32" color="#229a32" {...bold} dominantBaseline="central">{l}</text>
      ))}
      <g fontFamily={MONO} fontSize={21.5} dominantBaseline="central" transform={`translate(0,${dy})`} strokeWidth={0.45}>
        <text x={2150} y={68} fill="#3232b0" stroke="#3232b0">Latency</text>
        <rect x={2151} y={83} width={13} height={16} fill={NAVY} />
        <text x={2163} y={91} fill="#444" stroke="#444">Min</text>
        <rect x={2205} y={83} width={11} height={16} fill={BLUE} />
        <text x={2216} y={91} fill="#444" stroke="#444">Av</text>
        <rect x={2248} y={83} width={12} height={16} fill={GREEN} />
        <text x={2260} y={91} fill="#444" stroke="#444">Max</text>
        <text x={2150} y={125} fill="#ff3030" stroke="#ff3030">Polls</text>
        <rect x={2213} y={117} width={12} height={16} fill={YELLOW} />
        <text x={2226} y={125} fill="#333" stroke="#333">Sent</text>
        <text x={2297} y={125} fill="#333" stroke="#333">Off</text>
        {p.fail && <rect x={2151} y={141} width={12} height={15} fill="#ff2020" />}
        {p.fail && <text x={2164} y={148} fill="#444" stroke="#444">%Fail</text>}
        <text x={2150} y={183} fill="#229a32" stroke="#229a32">Traffic (bit/s)</text>
        <rect x={2151} y={198} width={12} height={16} fill="#008000" />
        <text x={2163} y={206} fill="#444" stroke="#444">Tx</text>
        <rect x={2196} y={198} width={12} height={16} fill="#800000" />
        <text x={2208} y={206} fill="#444" stroke="#444">Rx</text>
        <path d="M2160,283 V241 Q2160,231 2170,231 H2205 Q2218,231 2218,243 Q2218,253 2208,254 H2178 M2208,254 Q2219,256 2219,266 Q2219,277 2205,277 H2178"
          fill="none" stroke="#b8162a" strokeWidth={13} />
        <g fontFamily="'DejaVu Sans', sans-serif" fontSize={17} fill="#d2606f" strokeWidth={0}>
          <text x={2246} y={235} textLength={87}>Constant</text>
          <text x={2246} y={255} textLength={70}>Quality</text>
          <text x={2246} y={276} textLength={104}>Monitoring</text>
        </g>
        <text x={2152} y={304} fontFamily="'DejaVu Sans', sans-serif" fontSize={29} fill="#c84a5c" textLength={200}>FireBrick.co.uk</text>
      </g>
    </g>
  );
}

export default function App() {
  return (
    <svg width={2397} height={992} viewBox="0 0 2397 992" style={{ position: "fixed", left: 0, top: 0, display: "block" }}>
      <defs>
        <linearGradient id="bgEdge" x1="0" y1="0" x2="0" y2="1">
          <stop offset="0" stopColor="#15173a" />
          <stop offset="1" stopColor="#5c5c70" />
        </linearGradient>
        <filter id="soft" x="0" y="0" width="2397" height="992" filterUnits="userSpaceOnUse" primitiveUnits="userSpaceOnUse">
          <feGaussianBlur stdDeviation="1" />
        </filter>
      </defs>
      <rect width={2397} height={992} fill="url(#bgEdge)" />
      <rect x={0} y={0} width={2397} height={11} fill="#15173a" />
      <rect x={10} y={11} width={2386} height={981} fill="#ffffff" />
      <g filter="url(#soft)">
        <Panel id="c1" top={58} bottom={291} lineY={78} lineW={3} lineC="#8a8a40" zero={291}
          min={p1Min} av={p1Av} max={p1Max} spikes={p1Spikes} tx={p1Tx} rx={p1Rx}
          trafficDomain={[1e5, 1e8]} trafficMs={[50, 500]}
          trafficTicks={[[1e8, "100M"], [1e7, "10M"], [1e6, "1M"], [1e5, "100k"]]}
          sunColor="#7f703c" dateColor="#9a9556" fail={false} sunDy={4} failTop={[]} />
        <Panel id="c2" top={382} bottom={615} lineY={393} lineW={3} lineC="#6e6e30" zero={614}
          min={p2Min} av={p2Av} max={p2Max} spikes={p2Spikes} tx={p2Tx} rx={p2Rx}
          trafficDomain={[1e4, 1e7]} trafficMs={[50, 500]}
          trafficTicks={[[1e7, "10M"], [1e6, "1M"], [1e5, "100k"], [1e4, "10k"]]}
          sunColor="#2e2a16" dateColor="#77733f" fail={true} sunDy={7}
          failTop={p2FailTop} failBottom={p2FailBottom} outages={true} short={true} />
        <Panel id="c3" top={709} bottom={942} lineY={728} lineW={6} lineC="#c8c878" zero={942}
          min={p3Min} av={p3Av} max={p3Max} spikes={p3Spikes} tx={p3Tx} rx={p3Rx}
          trafficDomain={[1e5, 1e7]} trafficMs={[100, 400]}
          trafficTicks={[[1e7, "10M"], [1e6, "1M"], [1e5, "100k"]]}
          sunColor="#7f703c" dateColor="#9a9556" fail={true} sunDy={5}
          failTop={p3FailTop} topBar={true} />
      </g>
    </svg>
  );
}
